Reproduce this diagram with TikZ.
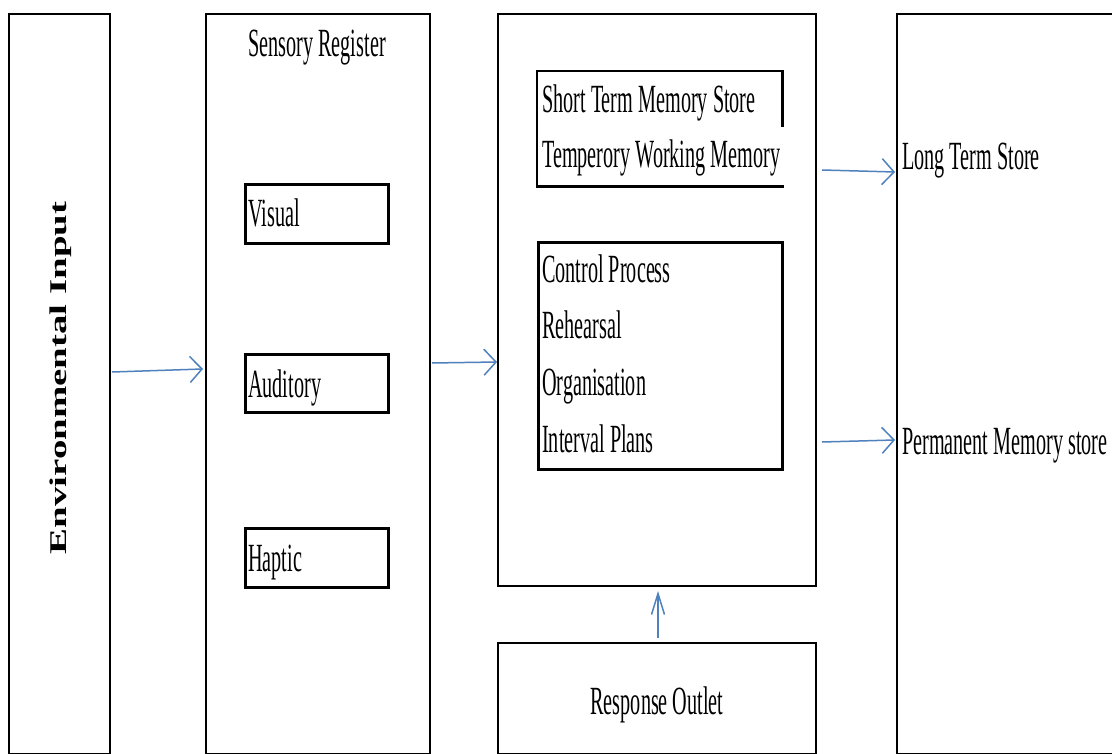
\documentclass[tikz,border=0pt]{standalone}
\usepackage{fontspec}
\setmainfont{Liberation Serif}
\usetikzlibrary{arrows.meta,calc}
\definecolor{arrowblue}{RGB}{79,129,189}
\newcommand{\cond}[1]{\scalebox{0.505}[1]{#1}}
\begin{document}
\begin{tikzpicture}[x=1pt,y=-1pt,
  outbox/.style={draw=black,line width=2pt,rectangle,inner sep=0pt,anchor=north west},
  inbox/.style={draw=black,line width=2.6pt,rectangle,inner sep=0pt,anchor=north west},
  lbl/.style={inner sep=0pt,anchor=base west,font=\fontsize{40}{48}\selectfont},
  clbl/.style={inner sep=0pt,anchor=base,font=\fontsize{40}{48}\selectfont},
  harr/.style={draw=arrowblue,line width=1.5pt,-{Straight Barb[length=12pt,width=26pt,line width=1.5pt]}},
  varr/.style={draw=arrowblue,line width=1.5pt,-{Straight Barb[length=21pt,width=13pt,line width=1.5pt]}}]
\useasboundingbox (0,0) rectangle (1112,754);
\fill[white] (0,0) rectangle (1112,754);
% outer boxes
\node[outbox,minimum width=101pt,minimum height=740pt] (env) at (8,13) {};
\node[outbox,minimum width=224pt,minimum height=740pt] (sens) at (205,13) {};
\node[outbox,minimum width=318pt,minimum height=572pt] (mid) at (497,13) {};
\node[outbox,minimum width=318pt,minimum height=111pt] (resp) at (497,642) {};
\node[outbox,minimum width=230pt,minimum height=740pt] (ltm) at (896,13) {};
% inner boxes
\node[inbox,minimum width=143pt,minimum height=59pt] (vis) at (244,183) {};
\node[inbox,minimum width=143pt,minimum height=58pt] (aud) at (244,353) {};
\node[inbox,minimum width=143pt,minimum height=59pt] (hap) at (244,527) {};
\node[inbox,draw=none,minimum width=243pt,minimum height=113pt] (stm) at (537,71) {};
\draw[line width=2.6pt] ($(stm.north east)+(0,56)$) -- (stm.north east) -- (stm.north west) -- (stm.south west) -- ($(stm.south east)+(1,0)$);
\node[inbox,minimum width=244pt,minimum height=227pt] (ctrl) at (537,241) {};
% texts
\node[inner sep=0pt,rotate=90,font=\fontsize{24}{28}\bfseries\selectfont] (envt) at (61,378) {\scalebox{1.62}[1]{Environmental Input}};
\node[clbl] (senst) at (317,57) {\cond{Sensory Register}};
\node[lbl] (vist) at (248,227) {\cond{Visual}};
\node[lbl] (audt) at (248,397) {\cond{Auditory}};
\node[lbl] (hapt) at (248,571) {\cond{Haptic}};
\node[lbl] (stm1) at (542,113) {\cond{Short Term Memory Store}};
\node[lbl] (stm2) at (542,168) {\cond{Temperory Working Memory}};
\node[lbl] (c1) at (542,283) {\cond{Control Process}};
\node[lbl] (c2) at (542,338) {\cond{Rehearsal}};
\node[lbl] (c3) at (542,395) {\cond{Organisation}};
\node[lbl] (c4) at (542,452) {\cond{Interval Plans}};
\node[lbl] (lts) at (902,170) {\cond{Long Term Store}};
\node[lbl] (pms) at (902,454) {\cond{Permanent Memory store}};
\node[clbl] (respt) at (657,714) {\cond{Response Outlet}};
% arrows
\draw[harr] ($(env.east)+(1,-12)$) -- ($(sens.west)+(-2,-15)$);
\draw[harr] ($(sens.east)+(1,-21)$) -- ($(mid.west)+(0,62)$);
\draw[harr] ($(mid.east)+(5,-130)$) -- ($(ltm.west)+(-1,-212)$);
\draw[harr] ($(mid.east)+(5,142)$) -- ($(ltm.west)+(-1,56)$);
\draw[varr] ($(resp.north)+(1,-4)$) -- ($(mid.south)+(1,4)$);
\end{tikzpicture}
\end{document}
